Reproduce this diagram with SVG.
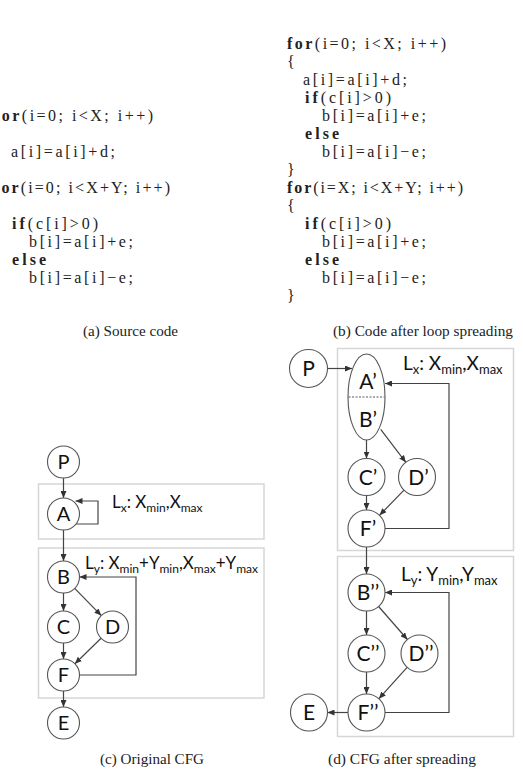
<svg xmlns="http://www.w3.org/2000/svg" width="523" height="770" viewBox="0 0 523 770">
<style>
.code{font-family:"Liberation Serif",serif;font-size:16px;fill:#222}
.kw{font-weight:bold}
.cap{font-family:"Liberation Serif",serif;font-size:15px;fill:#222}
.box{fill:#fff;stroke:#d6d6d6;stroke-width:1.5}
.nd{fill:#fff;stroke:#555;stroke-width:1.1}
.lbl{font-family:Lato,"Open Sans",sans-serif;font-size:20px;fill:#111;text-anchor:middle}
.lbl2{font-family:Lato,"Open Sans",sans-serif;font-size:21px;fill:#111;text-anchor:middle}
.loop{font-family:Lato,"Open Sans",sans-serif;font-size:17px;fill:#111}
.loop2{font-family:Lato,"Open Sans",sans-serif;font-size:19px;fill:#111}
.sub{font-size:12px}
.sub2{font-size:13px}
.ea{fill:none;stroke:#444;stroke-width:1.2;marker-end:url(#ah)}
</style>
<defs>
<marker id="ah" markerWidth="7" markerHeight="6" refX="7" refY="3" orient="auto" markerUnits="userSpaceOnUse">
<path d="M0,0 L7,3 L0,6 Z" fill="#333"/>
</marker>
</defs>
<rect width="523" height="770" fill="#fff"/>

<g id="code-a">
<text class="code" x="-6" y="121" textLength="159" lengthAdjust="spacing"><tspan class="kw">for</tspan>(i=0; i&lt;X; i++)</text>
<text class="code" x="11" y="157" textLength="104" lengthAdjust="spacing">a[i]=a[i]+d;</text>
<text class="code" x="-6" y="193" textLength="176" lengthAdjust="spacing"><tspan class="kw">for</tspan>(i=0; i&lt;X+Y; i++)</text>
<text class="code" x="12" y="229" textLength="86" lengthAdjust="spacing"><tspan class="kw">if</tspan>(c[i]&gt;0)</text>
<text class="code" x="29" y="247" textLength="104" lengthAdjust="spacing">b[i]=a[i]+e;</text>
<text class="code kw" x="12" y="265" textLength="34" lengthAdjust="spacing">else</text>
<text class="code" x="29" y="283" textLength="104" lengthAdjust="spacing">b[i]=a[i]−e;</text>
<text class="cap" x="83" y="336" textLength="95" lengthAdjust="spacingAndGlyphs">(a) Source code</text>
</g>

<g id="code-b">
<text class="code" x="287" y="49" textLength="159" lengthAdjust="spacing"><tspan class="kw">for</tspan>(i=0; i&lt;X; i++)</text>
<text class="code" x="287" y="67">{</text>
<text class="code" x="303" y="85" textLength="104" lengthAdjust="spacing">a[i]=a[i]+d;</text>
<text class="code" x="305" y="103" textLength="86" lengthAdjust="spacing"><tspan class="kw">if</tspan>(c[i]&gt;0)</text>
<text class="code" x="322" y="121" textLength="104" lengthAdjust="spacing">b[i]=a[i]+e;</text>
<text class="code kw" x="305" y="139" textLength="34" lengthAdjust="spacing">else</text>
<text class="code" x="322" y="157" textLength="104" lengthAdjust="spacing">b[i]=a[i]−e;</text>
<text class="code" x="287" y="175">}</text>
<text class="code" x="287" y="193" textLength="176" lengthAdjust="spacing"><tspan class="kw">for</tspan>(i=X; i&lt;X+Y; i++)</text>
<text class="code" x="287" y="211">{</text>
<text class="code" x="305" y="229" textLength="86" lengthAdjust="spacing"><tspan class="kw">if</tspan>(c[i]&gt;0)</text>
<text class="code" x="322" y="247" textLength="104" lengthAdjust="spacing">b[i]=a[i]+e;</text>
<text class="code kw" x="305" y="265" textLength="34" lengthAdjust="spacing">else</text>
<text class="code" x="322" y="283" textLength="104" lengthAdjust="spacing">b[i]=a[i]−e;</text>
<text class="code" x="287" y="301">}</text>
<text class="cap" x="333" y="336" textLength="180" lengthAdjust="spacingAndGlyphs">(b) Code after loop spreading</text>
</g>

<!-- (c) Original CFG -->
<g id="cfg-c-loop-x">
<rect class="box" x="38.5" y="484" width="225.5" height="55"/>
<text class="loop" x="112" y="508">L<tspan class="sub" dy="4">x</tspan><tspan dy="-4">: X</tspan><tspan class="sub" dy="4">min</tspan><tspan dy="-4">,X</tspan><tspan class="sub" dy="4">max</tspan></text>
</g>
<g id="cfg-c-loop-y">
<rect class="box" x="38.5" y="548" width="225.5" height="150"/>
<text class="loop" x="85" y="569">L<tspan class="sub" dy="4">y</tspan><tspan dy="-4">: X</tspan><tspan class="sub" dy="4">min</tspan><tspan dy="-4">+Y</tspan><tspan class="sub" dy="4">min</tspan><tspan dy="-4">,X</tspan><tspan class="sub" dy="4">max</tspan><tspan dy="-4">+Y</tspan><tspan class="sub" dy="4">max</tspan></text>
</g>

<g id="connectors-c">
<path class="ea" d="M63.5,478 V498"/>
<path class="ea" d="M76,524 H98 V501 H75.5"/>
<path class="ea" d="M63.5,530 V561"/>
<path class="ea" d="M63.5,593 V611"/>
<path class="ea" d="M74.7,588.4 L101.3,615.6"/>
<path class="ea" d="M63.5,643 V659"/>
<path class="ea" d="M101.1,638.2 L74.9,663.8"/>
<path class="ea" d="M79.5,675 H136 V577 H79.5"/>
<path class="ea" d="M63.5,691 V707"/>
</g>

<g id="c-P"><circle class="nd" cx="63.5" cy="462" r="16"/><text class="lbl" x="63.5" y="469">P</text></g>
<g id="c-A"><circle class="nd" cx="63.5" cy="514" r="16"/><text class="lbl" x="63.5" y="521">A</text></g>
<g id="c-B"><circle class="nd" cx="63.5" cy="577" r="16"/><text class="lbl" x="63.5" y="584">B</text></g>
<g id="c-C"><circle class="nd" cx="63.5" cy="627" r="16"/><text class="lbl" x="63.5" y="634">C</text></g>
<g id="c-D"><circle class="nd" cx="112.5" cy="627" r="16"/><text class="lbl" x="112.5" y="634">D</text></g>
<g id="c-F"><circle class="nd" cx="63.5" cy="675" r="16"/><text class="lbl" x="63.5" y="682">F</text></g>
<g id="c-E"><circle class="nd" cx="63.5" cy="723" r="16"/><text class="lbl" x="63.5" y="730">E</text></g>
<text class="cap" x="100" y="764" textLength="104" lengthAdjust="spacingAndGlyphs">(c) Original CFG</text>

<!-- (d) CFG after spreading -->
<g id="cfg-d-loop-x">
<rect class="box" x="337.5" y="348.5" width="176" height="202"/>
<text class="loop2" x="403" y="370">L<tspan class="sub2" dy="4">x</tspan><tspan dy="-4">: X</tspan><tspan class="sub2" dy="4">min</tspan><tspan dy="-4">,X</tspan><tspan class="sub2" dy="4">max</tspan></text>
</g>
<g id="cfg-d-loop-y">
<rect class="box" x="337.5" y="556.5" width="176" height="180"/>
<text class="loop2" x="401" y="581">L<tspan class="sub2" dy="4">y</tspan><tspan dy="-4">: Y</tspan><tspan class="sub2" dy="4">min</tspan><tspan dy="-4">,Y</tspan><tspan class="sub2" dy="4">max</tspan></text>
</g>

<g id="connectors-d">
<path class="ea" d="M327.5,368.5 H352"/>
<path class="ea" d="M385,528.5 H449 V383.5 H385"/>
<path class="ea" d="M366.5,440 V458.5"/>
<path class="ea" d="M380.7,429.3 L405.8,462.3"/>
<path class="ea" d="M366.5,495.5 V510"/>
<path class="ea" d="M404,490.2 L379.5,515.3"/>
<path class="ea" d="M366.5,547 V574"/>
<path class="ea" d="M366.5,611 V635"/>
<path class="ea" d="M378.6,606.5 L407.4,639.5"/>
<path class="ea" d="M366.5,672 V694"/>
<path class="ea" d="M407.1,667.3 L378.9,698.7"/>
<path class="ea" d="M385,712.5 H449 V592.5 H385"/>
<path class="ea" d="M348,712.5 H327.5"/>
</g>

<g id="d-P"><circle class="nd" cx="308.5" cy="368.5" r="19"/><text class="lbl2" x="308.5" y="376">P</text></g>
<g id="d-AB">
<ellipse class="nd" cx="366.5" cy="397" rx="18.5" ry="43"/>
<line x1="348.5" y1="397" x2="384.5" y2="397" stroke="#555" stroke-width="1" stroke-dasharray="2,1.5"/>
<text class="lbl2" x="368" y="389">A’</text>
<text class="lbl2" x="368" y="427">B’</text>
</g>
<g id="d-C1"><circle class="nd" cx="366.5" cy="477" r="18.5"/><text class="lbl2" x="368" y="484.5">C’</text></g>
<g id="d-D1"><circle class="nd" cx="417" cy="477" r="18.5"/><text class="lbl2" x="418.5" y="484.5">D’</text></g>
<g id="d-F1"><circle class="nd" cx="366.5" cy="528.5" r="18.5"/><text class="lbl2" x="368" y="536">F’</text></g>
<g id="d-B2"><circle class="nd" cx="366.5" cy="592.5" r="18.5"/><text class="lbl2" x="368" y="600">B’’</text></g>
<g id="d-C2"><circle class="nd" cx="366.5" cy="653.5" r="18.5"/><text class="lbl2" x="368" y="661">C’’</text></g>
<g id="d-D2"><circle class="nd" cx="419.5" cy="653.5" r="18.5"/><text class="lbl2" x="421" y="661">D’’</text></g>
<g id="d-F2"><circle class="nd" cx="366.5" cy="712.5" r="18.5"/><text class="lbl2" x="368" y="720">F’’</text></g>
<g id="d-E"><circle class="nd" cx="309" cy="712.5" r="18.5"/><text class="lbl2" x="309" y="720">E</text></g>
<text class="cap" x="328" y="764" textLength="148" lengthAdjust="spacingAndGlyphs">(d) CFG after spreading</text>
</svg>
